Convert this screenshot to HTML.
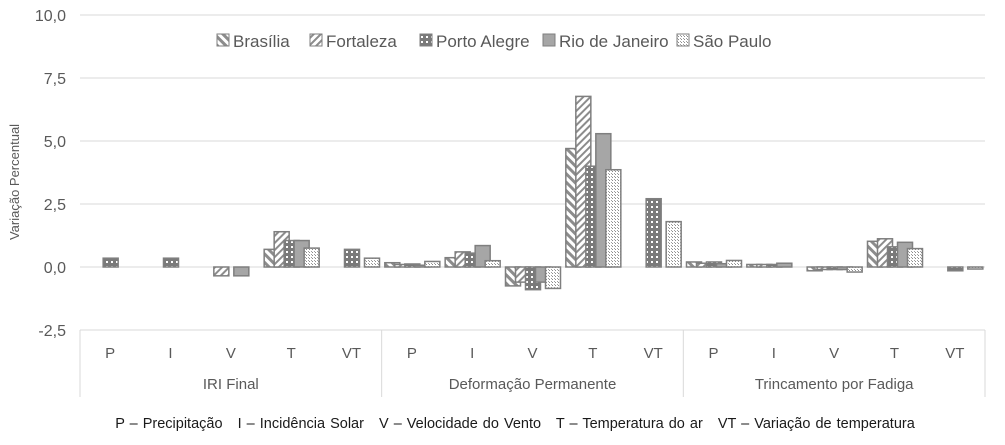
<!DOCTYPE html>
<html><head><meta charset="utf-8">
<style>
html,body{margin:0;padding:0;background:#fff;}
svg{display:block;font-family:"Liberation Sans",sans-serif;}
</style></head>
<body>
<svg id="chart" width="1005" height="445" viewBox="0 0 1005 445" xmlns="http://www.w3.org/2000/svg">
<defs>
<pattern id="p0" width="6" height="6" patternUnits="userSpaceOnUse" patternTransform="rotate(-45)"><rect width="6" height="6" fill="#fff"/><rect width="3" height="6" fill="#8c8c8c"/></pattern>
<pattern id="p1" width="5" height="5" patternUnits="userSpaceOnUse" patternTransform="rotate(45)"><rect width="5" height="5" fill="#fff"/><rect width="2" height="5" fill="#8c8c8c"/></pattern>
<pattern id="p2" width="5" height="5" patternUnits="userSpaceOnUse"><rect width="5" height="5" fill="#7a7a7a"/><rect x="1" y="1" width="2" height="2" fill="#fff"/></pattern>
<pattern id="p3" width="4" height="4" patternUnits="userSpaceOnUse"><rect width="4" height="4" fill="#a6a6a6"/></pattern>
<pattern id="p4" width="3" height="3" patternUnits="userSpaceOnUse"><rect width="3" height="3" fill="#fff"/><rect width="1" height="1" fill="#8c8c8c"/><rect x="2" y="2" width="1" height="1" fill="#a0a0a0"/></pattern>
</defs>
<g id="grid"></g>
<g id="bars"></g>
<g id="axes"></g>
</svg>
<script>
const groups = ["IRI Final", "Deformação Permanente", "Trincamento por Fadiga"];
const cats = ["P", "I", "V", "T", "VT"];
const seriesNames = ["Brasília", "Fortaleza", "Porto Alegre", "Rio de Janeiro", "São Paulo"];
const brasilia   = [0,0,0,0.7,0,   0.17,0.37,-0.75,4.7,0,   0.2,0.1,-0.15,1.02,0];
const fortaleza  = [0,0,-0.35,1.4,0, 0.1,0.6,-0.6,6.77,0,  0.15,0.1,-0.1,1.12,0];
const portoAlegre= [0.35,0.35,0,1.05,0.7, 0.12,0.55,-0.9,4.0,2.71, 0.2,0.1,-0.1,0.8,-0.15];
const rioJaneiro = [0,0,-0.35,1.05,0, 0.07,0.85,-0.6,5.29,0, 0.13,0.15,-0.1,0.98,0];
const saoPaulo   = [0,0,0,0.75,0.35, 0.22,0.25,-0.85,3.86,1.8, 0.26,0,-0.2,0.73,-0.08];
const series = [brasilia, fortaleza, portoAlegre, rioJaneiro, saoPaulo];
const yTicks = [-2.5, 0, 2.5, 5, 7.5, 10];
const yTickLabels = ["-2,5", "0,0", "2,5", "5,0", "7,5", "10,0"];

const NS = "http://www.w3.org/2000/svg";
const X0 = 80, X1 = 985, nCat = 15;
const catW = (X1 - X0) / nCat;
function y(v){ return 267 - v * 25.2; }
function xCat(i){ return X0 + (i + 0.5) * catW; }
function mk(tag, attrs, parent, text){
  const e = document.createElementNS(NS, tag);
  for (const k in attrs) e.setAttribute(k, attrs[k]);
  if (text !== undefined) e.textContent = text;
  parent.appendChild(e); return e;
}
const grid = document.getElementById("grid"), bars = document.getElementById("bars"), axes = document.getElementById("axes");
yTicks.forEach((t, i) => {
  const l = mk("line", {x1: X0, x2: X1, y1: y(t), y2: y(t), stroke: "#d9d9d9", "stroke-width": 1}, grid);
  
  
  const tx = mk("text", {x: 66, y: y(t) + 6, "text-anchor": "end", "font-size": 16, fill: "#595959"}, axes, yTickLabels[i]);
  
  
});
const yt = mk("text", {transform: "translate(19,182) rotate(-90)", "text-anchor": "middle", "font-size": 13, fill: "#595959"}, axes, "Variação Percentual");


[0, 5, 10, 15].forEach(k => {
  const l = mk("line", {x1: X0 + k * catW, x2: X0 + k * catW, y1: 330, y2: 397, stroke: "#d9d9d9"}, axes);
  
  
});
for (let i = 0; i < nCat; i++) {
  const t = mk("text", {x: xCat(i), y: 358, "text-anchor": "middle", "font-size": 15, fill: "#595959"}, axes, cats[i % 5]);
  
  
}
groups.forEach((g, k) => {
  const t = mk("text", {x: X0 + (k * 5 + 2.5) * catW, y: 389, "text-anchor": "middle", "font-size": 15, fill: "#595959"}, axes, g);
  
  
});
const bw = 15, step = 10;
series.forEach((s, si) => {
  s.forEach((v, i) => {
    if (v === 0) return;
    const x = xCat(i) - 27 + si * step;
    const top = Math.min(y(v), y(0)), h = Math.abs(y(v) - y(0));
    const r = mk("rect", {x: x, y: top, width: bw, height: Math.max(h, 1), fill: "url(#p" + si + ")", stroke: "#7f7f7f", "stroke-width": 1.5}, bars);
    
    
  });
});
const legX = [217, 310, 420, 543, 677];
seriesNames.forEach((n, si) => {
  const g = mk("g", {}, axes);
  
  
  mk("rect", {x: legX[si], y: 34, width: 12, height: 12, fill: "url(#p" + si + ")", stroke: "#7f7f7f"}, g);
  mk("text", {x: legX[si] + 16, y: 47, "font-size": 17, fill: "#595959"}, g, n);
});
const note = mk("text", {x: 515, y: 428, "text-anchor": "middle", "font-size": 14.5, fill: "#1a1a1a", "word-spacing": 1}, axes, "P – Precipitação   I – Incidência Solar   V – Velocidade do Vento   T – Temperatura do ar   VT – Variação de temperatura");


note.setAttribute('xml:space', 'preserve');
note.style.whiteSpace = 'pre';
</script>
</body></html>
